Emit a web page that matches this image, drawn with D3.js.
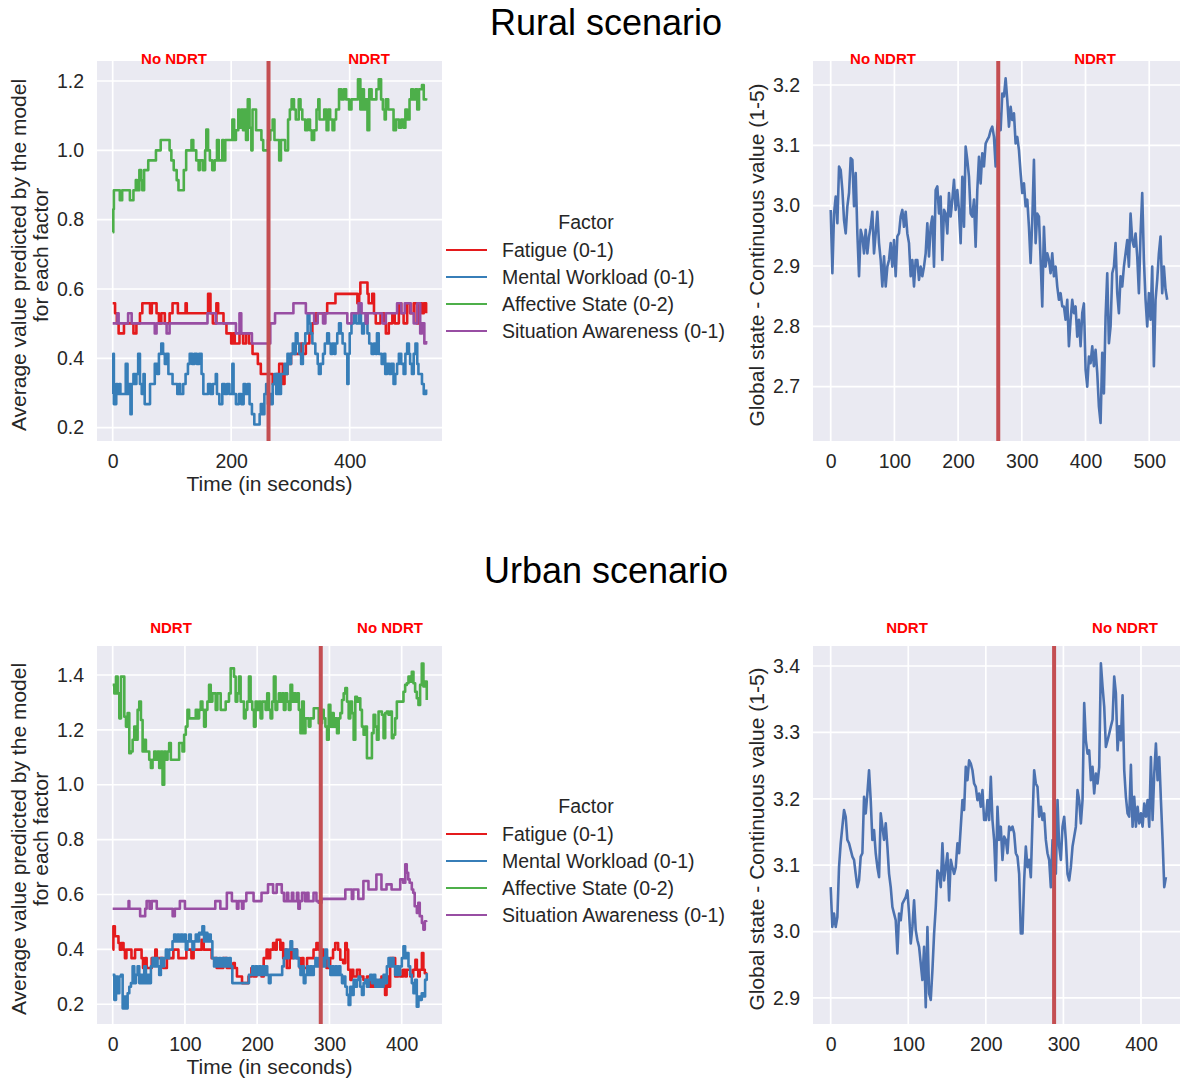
<!DOCTYPE html>
<html>
<head>
<meta charset="utf-8">
<title>Rural and urban scenario</title>
<script src="https://d3js.org/d3.v7.min.js"></script>
<style>
  body { margin: 0; background: #fff; }
  text { font-family: "Liberation Sans", Arial, sans-serif; fill: #262626; }
</style>
</head>
<body>
<script>
// ---------- data ----------
var factorNames = ['Fatigue (0-1)', 'Mental Workload (0-1)', 'Affective State (0-2)', 'Situation Awareness (0-1)'];

// time (s) at which the NDRT condition switches
var ruralSwitch = 263;
var urbanSwitch = 288;

// step series, [time, value] at each change
var ruralFatigue = [[0,.559],[4,.53],[7,.501],[10,.472],[19,.501],[35,.472],[40,.501],[46,.53],[50,.559],[63,.53],[66,.559],[74,.53],[78,.501],[82,.53],[88,.501],[96,.53],[101,.559],[110,.53],[123,.559],[125,.53],[161,.586],[165,.53],[169,.501],[175,.559],[178,.53],[187,.501],[192,.472],[200,.443],[203,.472],[206,.443],[214,.472],[220,.443],[225,.472],[230,.443],[236,.413],[245,.384],[250,.355],[270,.326],[276,.355],[281,.384],[287,.326],[290,.355],[295,.384],[301,.413],[318,.443],[320,.413],[326,.443],[332,.472],[337,.501],[343,.53],[362,.559],[376,.586],[413,.559],[416,.586],[418,.619],[430,.586],[432,.559],[438,.586],[441,.53],[444,.501],[452,.53],[458,.501],[461,.472],[466,.501],[472,.53],[476,.501],[483,.559],[487,.53],[491,.501],[497,.559],[502,.53],[508,.559],[513,.501],[517,.559],[522,.53],[525,.559],[529,.53]];

var ruralWorkload = [[0,.297],[1,.413],[2,.268],[6,.326],[8,.297],[11,.326],[13,.297],[22,.384],[25,.297],[28,.326],[30,.239],[32,.326],[35,.355],[38,.326],[40,.355],[43,.413],[46,.326],[49,.297],[52,.355],[54,.268],[63,.326],[71,.384],[75,.355],[78,.413],[82,.443],[85,.413],[88,.384],[91,.413],[94,.355],[101,.326],[109,.297],[112,.326],[114,.297],[119,.326],[123,.355],[127,.384],[130,.413],[134,.384],[138,.413],[142,.384],[146,.413],[150,.355],[153,.297],[161,.326],[165,.297],[169,.326],[174,.355],[176,.297],[180,.268],[185,.326],[189,.297],[193,.326],[197,.297],[202,.384],[204,.297],[208,.268],[213,.297],[217,.268],[221,.326],[224,.297],[228,.326],[231,.268],[235,.239],[239,.209],[248,.239],[250,.268],[253,.239],[256,.297],[259,.326],[262,.268],[264,.297],[267,.268],[270,.326],[273,.355],[276,.297],[278,.355],[281,.297],[284,.355],[290,.384],[292,.355],[295,.413],[298,.384],[301,.413],[304,.443],[306,.413],[309,.472],[312,.443],[315,.413],[318,.384],[321,.443],[325,.472],[329,.53],[332,.501],[334,.472],[337,.443],[342,.413],[346,.384],[348,.355],[351,.384],[355,.413],[358,.443],[362,.472],[365,.443],[368,.413],[371,.443],[374,.413],[376,.443],[379,.472],[382,.501],[385,.472],[388,.443],[392,.413],[396,.326],[398,.413],[400,.472],[403,.501],[407,.53],[411,.501],[416,.559],[419,.501],[421,.472],[424,.501],[427,.53],[430,.472],[433,.443],[437,.413],[441,.443],[444,.413],[446,.472],[449,.413],[454,.384],[458,.413],[460,.355],[463,.384],[467,.355],[470,.384],[474,.326],[477,.355],[480,.384],[483,.413],[487,.384],[491,.355],[494,.413],[497,.443],[500,.413],[502,.384],[505,.355],[508,.413],[511,.443],[514,.384],[516,.355],[522,.326],[525,.297],[529,.31]];

var ruralAffective = [[0,.764],[1,.83],[2,.885],[12,.856],[16,.885],[29,.856],[35,.885],[39,.914],[41,.885],[45,.943],[48,.914],[50,.885],[53,.943],[60,.971],[73,1.0],[81,1.03],[96,1.0],[99,.971],[103,.943],[108,.914],[111,.885],[120,.943],[124,1.0],[133,1.03],[136,1.0],[141,.971],[145,.943],[147,.971],[152,.943],[156,1.0],[158,1.06],[161,1.0],[164,.971],[168,.943],[172,.971],[176,1.03],[179,.971],[185,1.03],[187,.971],[190,1.03],[202,1.089],[205,1.03],[208,1.058],[212,1.118],[214,1.065],[217,1.118],[220,1.058],[222,1.118],[225,1.03],[228,1.147],[231,1.065],[234,1.0],[236,1.118],[242,1.058],[251,1.03],[254,1.0],[262,1.03],[266,1.058],[270,1.089],[273,1.03],[281,.971],[284,1.03],[291,1.0],[296,1.089],[299,1.118],[302,1.147],[306,1.118],[309,1.089],[314,1.147],[317,1.118],[320,1.089],[325,1.058],[329,1.089],[333,1.058],[336,1.03],[340,1.058],[344,1.118],[347,1.147],[349,1.089],[357,1.118],[361,1.058],[364,1.118],[367,1.089],[371,1.058],[374,1.089],[377,1.118],[382,1.176],[386,1.147],[390,1.176],[394,1.147],[399,1.118],[403,1.147],[414,1.205],[418,1.118],[421,1.176],[424,1.118],[427,1.147],[430,1.058],[433,1.176],[437,1.147],[445,1.176],[449,1.205],[453,1.147],[456,1.118],[459,1.089],[461,1.147],[465,1.118],[474,1.058],[478,1.089],[483,1.065],[487,1.089],[491,1.065],[494,1.118],[497,1.089],[501,1.147],[504,1.176],[507,1.147],[511,1.176],[514,1.118],[517,1.176],[522,1.188],[525,1.147],[529,1.15]];

var ruralAwareness = [[0,.501],[8,.53],[10,.501],[26,.53],[32,.501],[71,.472],[74,.501],[91,.472],[96,.501],[160,.53],[174,.501],[208,.472],[214,.53],[217,.472],[235,.443],[266,.501],[274,.53],[305,.559],[326,.53],[340,.501],[346,.53],[355,.501],[359,.53],[396,.501],[403,.53],[415,.559],[420,.53],[427,.501],[430,.53],[455,.501],[461,.53],[480,.559],[487,.53],[493,.559],[503,.53],[508,.501],[514,.559],[519,.472],[522,.501],[526,.443],[529,.45]];

var urbanFatigue = [[0,.399],[1,.484],[3,.448],[8,.423],[10,.399],[12,.423],[15,.399],[17,.368],[19,.399],[26,.368],[31,.399],[40,.368],[42,.332],[45,.368],[47,.332],[54,.368],[59,.399],[61,.368],[70,.332],[75,.368],[84,.399],[91,.368],[102,.399],[109,.368],[112,.399],[123,.435],[126,.399],[137,.368],[144,.332],[153,.368],[158,.332],[167,.35],[169,.332],[172,.301],[179,.277],[188,.301],[192,.332],[195,.301],[199,.332],[206,.301],[209,.368],[213,.399],[215,.368],[218,.399],[222,.423],[225,.399],[227,.435],[232,.399],[234,.423],[236,.368],[239,.399],[241,.332],[245,.399],[248,.368],[250,.399],[255,.368],[259,.332],[262,.368],[264,.332],[269,.368],[278,.399],[282,.423],[285,.399],[287,.368],[289,.399],[292,.368],[296,.332],[301,.368],[305,.399],[308,.423],[312,.399],[315,.362],[319,.35],[322,.423],[324,.399],[326,.326],[329,.289],[331,.326],[333,.301],[338,.326],[342,.301],[347,.289],[352,.301],[356,.264],[359,.289],[361,.264],[370,.289],[372,.301],[375,.264],[377,.234],[379,.301],[382,.264],[384,.368],[391,.301],[395,.326],[398,.301],[402,.326],[405,.301],[407,.326],[412,.301],[416,.326],[419,.362],[421,.326],[423,.301],[425,.326],[428,.387],[430,.326],[432,.313],[434,.31]];

var urbanAwareness = [[0,.548],[22,.576],[23,.548],[38,.521],[45,.548],[47,.576],[51,.548],[54,.576],[61,.548],[83,.521],[86,.548],[93,.576],[100,.548],[142,.576],[149,.548],[158,.606],[165,.576],[172,.548],[174,.576],[179,.548],[181,.576],[185,.606],[195,.576],[206,.606],[215,.637],[222,.606],[227,.637],[234,.606],[237,.576],[241,.606],[243,.576],[248,.606],[250,.576],[255,.606],[257,.548],[259,.576],[262,.606],[266,.576],[269,.606],[271,.576],[278,.606],[282,.576],[285,.57],[289,.584],[322,.618],[331,.584],[333,.618],[340,.584],[347,.649],[354,.618],[365,.673],[372,.618],[379,.637],[386,.618],[398,.655],[402,.643],[405,.71],[407,.679],[409,.655],[411,.643],[414,.618],[416,.606],[418,.557],[421,.533],[423,.57],[425,.521],[428,.496],[430,.472],[432,.502],[434,.5]];

// regularly sampled series (one value every urbanFactorStep seconds)
var urbanFactorStep = 2.3;
var urbanAffective = [1.364,1.333,1.394,1.333,1.242,1.394,1.394,1.248,1.212,1.261,
  1.115,1.121,1.164,1.212,1.164,1.273,1.303,1.236,1.121,1.164,
  1.121,1.121,1.091,1.061,1.091,1.121,1.091,1.121,1.061,1.121,
  1.0,1.121,1.091,1.121,1.152,1.091,1.091,1.091,1.091,1.091,
  1.152,1.152,1.121,1.182,1.212,1.273,1.242,1.242,1.242,1.242,
  1.273,1.242,1.273,1.303,1.273,1.212,1.273,1.303,1.364,1.303,
  1.333,1.333,1.273,1.333,1.333,1.273,1.273,1.273,1.303,1.303,
  1.333,1.424,1.424,1.394,1.303,1.333,1.394,1.303,1.303,1.242,
  1.273,1.303,1.394,1.303,1.273,1.212,1.303,1.273,1.303,1.242,
  1.303,1.303,1.273,1.333,1.273,1.242,1.303,1.394,1.273,1.303,
  1.333,1.303,1.333,1.273,1.333,1.303,1.273,1.364,1.303,1.333,
  1.303,1.333,1.273,1.188,1.303,1.188,1.242,1.242,1.212,1.242,
  1.242,1.279,1.279,1.279,1.224,1.224,1.273,1.242,1.212,1.164,
  1.291,1.212,1.261,1.212,1.242,1.188,1.242,1.261,1.309,1.333,
  1.352,1.303,1.242,1.303,1.261,1.164,1.321,1.303,1.315,1.273,
  1.212,1.182,1.212,1.097,1.097,1.097,1.188,1.255,1.212,1.164,
  1.267,1.267,1.255,1.170,1.261,1.267,1.255,1.267,1.170,1.182,
  1.242,1.303,1.303,1.303,1.303,1.339,1.364,1.370,1.394,1.376,
  1.412,1.370,1.339,1.315,1.291,1.364,1.442,1.358,1.376,1.309];

var urbanWorkload = [.307,.216,.301,.240,.301,.307,.185,.228,.185,.240,
  .264,.277,.338,.277,.307,.338,.277,.307,.277,.338,
  .277,.307,.277,.338,.368,.338,.368,.338,.307,.368,
  .338,.368,.399,.368,.399,.399,.429,.454,.429,.454,
  .429,.454,.429,.454,.399,.429,.454,.429,.399,.429,
  .454,.429,.460,.454,.484,.429,.460,.429,.454,.429,
  .368,.338,.368,.338,.368,.338,.368,.338,.368,.338,
  .368,.338,.277,.277,.277,.277,.277,.277,.277,.277,
  .277,.277,.307,.307,.338,.307,.338,.307,.338,.307,
  .338,.307,.338,.307,.277,.307,.307,.307,.307,.307,
  .307,.307,.338,.368,.399,.368,.399,.429,.399,.368,
  .399,.368,.338,.307,.338,.277,.307,.338,.307,.338,
  .307,.338,.368,.338,.368,.338,.368,.338,.399,.368,
  .338,.307,.338,.307,.338,.307,.338,.307,.277,.301,
  .264,.234,.197,.264,.234,.289,.264,.289,.301,.264,
  .234,.277,.289,.264,.289,.307,.277,.307,.264,.289,
  .264,.289,.264,.307,.277,.338,.368,.338,.368,.338,
  .307,.338,.307,.338,.368,.411,.368,.387,.338,.307,
  .277,.240,.289,.191,.228,.216,.240,.228,.289,.313];

// global state, one value every ...Step seconds
var ruralGlobalStep = 2.615;
var ruralGlobal = [2.993,2.888,2.987,3.015,2.971,3.065,3.059,3.026,2.976,2.954,
  2.999,3.021,3.079,3.076,2.999,3.054,2.954,2.883,2.960,2.949,
  2.921,2.960,2.921,2.949,2.965,2.990,2.921,2.954,2.990,2.938,
  2.910,2.866,2.916,2.866,2.899,2.910,2.938,2.899,2.943,2.883,
  2.949,2.954,2.982,2.993,2.965,2.990,2.954,2.938,2.883,2.910,
  2.866,2.910,2.910,2.877,2.899,2.883,2.899,2.921,2.971,2.916,
  2.965,2.982,2.899,3.026,3.032,2.987,3.015,2.910,2.993,2.987,
  2.954,3.021,2.982,3.010,3.043,2.993,3.026,2.993,2.938,3.048,
  2.965,3.098,3.076,3.048,2.987,2.982,3.010,2.932,3.026,3.081,
  3.037,3.087,3.065,3.103,3.109,3.114,3.125,3.131,3.114,3.065,
  3.131,3.153,3.125,3.186,3.181,3.211,3.175,3.131,3.164,3.142,
  3.153,3.103,3.114,3.092,3.054,3.021,3.037,2.999,3.010,2.965,
  2.905,2.976,3.076,2.938,2.987,2.982,2.910,2.833,2.965,2.899,
  2.921,2.910,2.888,2.921,2.883,2.899,2.866,2.844,2.855,2.833,
  2.833,2.811,2.844,2.767,2.811,2.844,2.822,2.833,2.783,2.811,
  2.767,2.822,2.838,2.728,2.700,2.750,2.739,2.767,2.734,2.761,
  2.723,2.667,2.640,2.756,2.689,2.816,2.888,2.772,2.800,2.888,
  2.899,2.938,2.855,2.822,2.883,2.866,2.899,2.921,2.943,2.899,
  2.987,2.943,2.932,2.954,2.916,2.855,2.954,3.021,2.910,2.844,
  2.800,2.855,2.811,2.899,2.734,2.844,2.877,2.921,2.949,2.855,
  2.899,2.861,2.844];

var urbanGlobalStep = 2.15;
var urbanGlobal = [3.067,3.007,3.027,3.007,3.022,3.097,3.133,3.158,3.183,3.173,
  3.138,3.133,3.123,3.113,3.108,3.087,3.067,3.077,3.113,3.118,
  3.203,3.178,3.208,3.243,3.198,3.138,3.153,3.118,3.097,3.082,
  3.178,3.158,3.138,3.163,3.128,3.087,3.067,3.037,3.027,3.017,
  2.967,3.027,3.017,3.042,3.047,3.052,3.062,3.027,2.982,3.007,
  3.047,3.002,2.987,2.977,2.952,2.927,2.977,2.886,3.007,2.907,
  2.897,2.942,2.997,3.037,3.092,3.087,3.067,3.133,3.077,3.097,
  3.118,3.047,3.108,3.097,3.087,3.097,3.133,3.118,3.158,3.198,
  3.183,3.248,3.228,3.258,3.253,3.243,3.223,3.218,3.198,3.208,
  3.188,3.213,3.168,3.168,3.198,3.168,3.233,3.168,3.138,3.077,
  3.188,3.138,3.158,3.108,3.143,3.138,3.118,3.158,3.153,3.158,
  3.148,3.118,3.113,3.087,2.997,2.997,3.077,3.128,3.097,3.108,
  3.082,3.168,3.243,3.223,3.218,3.173,3.188,3.168,3.178,3.138,
  3.118,3.108,3.067,3.138,3.097,3.087,3.198,3.128,3.108,3.158,
  3.173,3.138,3.087,3.077,3.097,3.128,3.143,3.158,3.213,3.198,
  3.163,3.198,3.344,3.288,3.268,3.273,3.228,3.248,3.208,3.238,
  3.223,3.248,3.404,3.369,3.339,3.278,3.288,3.298,3.309,3.319,
  3.384,3.359,3.273,3.309,3.288,3.356,3.243,3.203,3.178,3.173,
  3.251,3.158,3.203,3.158,3.188,3.163,3.178,3.158,3.193,3.173,
  3.198,3.158,3.263,3.168,3.238,3.283,3.228,3.263,3.198,3.138,
  3.067,3.082];

// tick values
var ruralFactorTicksX = [0, 200, 400];
var ruralFactorTicksY = [0.2, 0.4, 0.6, 0.8, 1.0, 1.2];
var ruralGlobalTicksX = [0, 100, 200, 300, 400, 500];
var ruralGlobalTicksY = [2.7, 2.8, 2.9, 3.0, 3.1, 3.2];
var urbanFactorTicksX = [0, 100, 200, 300, 400];
var urbanFactorTicksY = [0.2, 0.4, 0.6, 0.8, 1.0, 1.2, 1.4];
var urbanGlobalTicksX = [0, 100, 200, 300, 400];
var urbanGlobalTicksY = [2.9, 3.0, 3.1, 3.2, 3.3, 3.4];

// ---------- drawing ----------
var factorColors = ['#e41a1c', '#377eb8', '#4daf4a', '#984ea3'];
var globalColor = '#4c72b0';
var switchColor = '#c44e52';

function sampled(values, step) {
    return values.map(function (v, i) { return [i * step, v]; });
}

var svg = d3.select('body')
    .append('svg')
    .attr('width', 1181)
    .attr('height', 1079);

svg.append('rect').attr('width', 1181).attr('height', 1079).attr('fill', '#fff');

function drawPanel(p) {
    var x = d3.scaleLinear().domain(p.xDomain).range([p.left, p.right]);
    var y = d3.scaleLinear().domain(p.yDomain).range([p.bottom, p.top]);
    var g = svg.append('g');

    g.append('rect')
        .attr('x', p.left).attr('y', p.top)
        .attr('width', p.right - p.left).attr('height', p.bottom - p.top)
        .attr('fill', '#eaeaf2');

    // white grid
    g.selectAll('line.gx').data(p.ticksX).enter().append('line')
        .attr('x1', x).attr('x2', x)
        .attr('y1', p.top).attr('y2', p.bottom)
        .attr('stroke', '#fff').attr('stroke-width', 1.7);
    g.selectAll('line.gy').data(p.ticksY).enter().append('line')
        .attr('x1', p.left).attr('x2', p.right)
        .attr('y1', y).attr('y2', y)
        .attr('stroke', '#fff').attr('stroke-width', 1.7);

    var ax = g.append('g')
        .attr('transform', 'translate(0,' + p.bottom + ')')
        .call(d3.axisBottom(x).tickValues(p.ticksX).tickSize(0).tickPadding(13));
    var ay = g.append('g')
        .attr('transform', 'translate(' + p.left + ',0)')
        .call(d3.axisLeft(y).tickValues(p.ticksY).tickSize(0).tickPadding(13).tickFormat(d3.format('.1f')));
    [ax, ay].forEach(function (a) {
        a.select('.domain').remove();
        a.selectAll('text').style('font-size', '19.5px').style('font-family', '"Liberation Sans", Arial, sans-serif').attr('fill', '#262626');
    });

    var line = d3.line()
        .x(function (d) { return x(d[0]); })
        .y(function (d) { return y(d[1]); })
        .curve(p.step ? d3.curveStepAfter : d3.curveLinear);

    p.series.forEach(function (s, i) {
        g.append('path')
            .attr('d', line(s))
            .attr('fill', 'none')
            .attr('stroke', p.colors[i])
            .attr('stroke-width', 2.6)
            .attr('stroke-linejoin', 'round');
    });

    // condition switch
    g.append('line')
        .attr('x1', x(p.switchAt)).attr('x2', x(p.switchAt))
        .attr('y1', p.top).attr('y2', p.bottom)
        .attr('stroke', switchColor).attr('stroke-width', 4);

    p.notes.forEach(function (n) {
        g.append('text')
            .attr('x', n.x).attr('y', p.noteY)
            .attr('text-anchor', 'middle')
            .style('font-size', '15px').style('font-weight', 'bold')
            .style('fill', '#ff0000')
            .text(n.label);
    });

    // y label (one or two lines)
    p.yLabel.forEach(function (l, i) {
        g.append('text')
            .attr('transform', 'translate(' + p.yLabelX[i] + ',' + ((p.top + p.bottom) / 2 + 4) + ') rotate(-90)')
            .attr('text-anchor', 'middle')
            .attr('dy', '0.35em')
            .style('font-size', '21px')
            .text(l);
    });

    if (p.xLabel) {
        g.append('text')
            .attr('x', (p.left + p.right) / 2).attr('y', p.bottom + 50)
            .attr('text-anchor', 'middle')
            .style('font-size', '21px')
            .text(p.xLabel);
    }
}

function drawLegend(top) {
    var g = svg.append('g');
    g.append('text')
        .attr('x', 586).attr('y', top).attr('dy', '0.35em')
        .attr('text-anchor', 'middle')
        .style('font-size', '19.5px')
        .text('Factor');
    factorNames.forEach(function (name, i) {
        var yy = top + 28 + i * 27;
        g.append('line')
            .attr('x1', 446).attr('x2', 487)
            .attr('y1', yy).attr('y2', yy)
            .attr('stroke', factorColors[i]).attr('stroke-width', 2);
        g.append('text')
            .attr('x', 502).attr('y', yy).attr('dy', '0.35em')
            .style('font-size', '19.5px')
            .text(name);
    });
}

function title(txt, yy) {
    svg.append('text')
        .attr('x', 606).attr('y', yy)
        .attr('text-anchor', 'middle')
        .style('font-size', '36px')
        .style('fill', '#000')
        .text(txt);
}

var factorYLabel = ['Average value predicted by the model', 'for each factor'];
var globalYLabel = ['Global state - Continuous value (1-5)'];

title('Rural scenario', 35);
title('Urban scenario', 583);

drawPanel({
    left: 97, right: 442, top: 61, bottom: 441,
    xDomain: [-26.5, 555.8], yDomain: [0.1616, 1.2577],
    ticksX: ruralFactorTicksX, ticksY: ruralFactorTicksY,
    series: [ruralFatigue, ruralWorkload, ruralAffective, ruralAwareness],
    colors: factorColors, step: true,
    switchAt: ruralSwitch,
    noteY: 64, notes: [{ x: 174, label: 'No NDRT' }, { x: 369, label: 'NDRT' }],
    yLabel: factorYLabel, yLabelX: [19, 41],
    xLabel: 'Time (in seconds)'
});

drawPanel({
    left: 813, right: 1180, top: 61, bottom: 441,
    xDomain: [-27.8, 548.3], yDomain: [2.61, 3.2398],
    ticksX: ruralGlobalTicksX, ticksY: ruralGlobalTicksY,
    series: [sampled(ruralGlobal, ruralGlobalStep)],
    colors: [globalColor], step: false,
    switchAt: ruralSwitch,
    noteY: 64, notes: [{ x: 883, label: 'No NDRT' }, { x: 1095, label: 'NDRT' }],
    yLabel: globalYLabel, yLabelX: [757]
});

drawLegend(222);

drawPanel({
    left: 97, right: 442, top: 646, bottom: 1024,
    xDomain: [-21.7, 455.8], yDomain: [0.128, 1.5057],
    ticksX: urbanFactorTicksX, ticksY: urbanFactorTicksY,
    series: [urbanFatigue, sampled(urbanWorkload, urbanFactorStep), sampled(urbanAffective, urbanFactorStep), urbanAwareness],
    colors: factorColors, step: true,
    switchAt: urbanSwitch,
    noteY: 633, notes: [{ x: 171, label: 'NDRT' }, { x: 390, label: 'No NDRT' }],
    yLabel: factorYLabel, yLabelX: [19, 41],
    xLabel: 'Time (in seconds)'
});

drawPanel({
    left: 813, right: 1180, top: 646, bottom: 1024,
    xDomain: [-22.8, 450.3], yDomain: [2.8608, 3.4301],
    ticksX: urbanGlobalTicksX, ticksY: urbanGlobalTicksY,
    series: [sampled(urbanGlobal, urbanGlobalStep)],
    colors: [globalColor], step: false,
    switchAt: urbanSwitch,
    noteY: 633, notes: [{ x: 907, label: 'NDRT' }, { x: 1125, label: 'No NDRT' }],
    yLabel: globalYLabel, yLabelX: [757]
});

drawLegend(806);
</script>
</body>
</html>
